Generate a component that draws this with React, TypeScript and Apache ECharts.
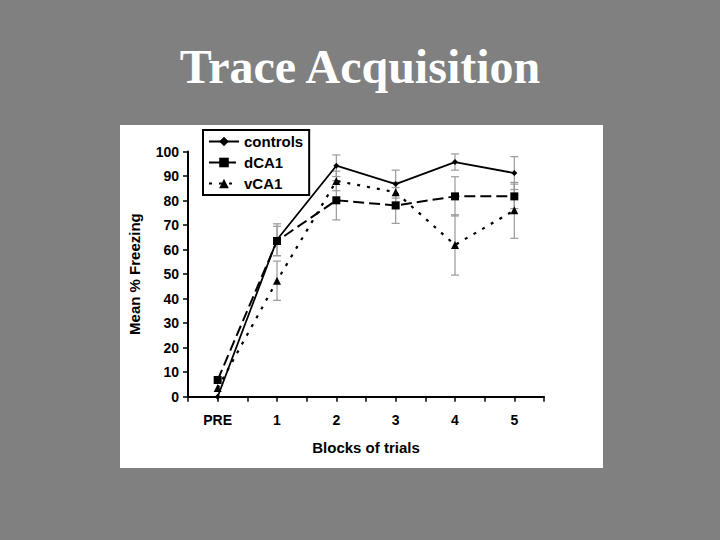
import React, { useEffect, useRef } from "react";
import * as echarts from "echarts";

const categories = ["PRE", "1", "2", "3", "4", "5"];
const controls = [0, 64, 94.2, 86.7, 95.7, 91.2];
const controlsErr = [0, 6.5, 4.4, 5.7, 3.3, 6.7];
const dCA1 = [6.8, 63.5, 80.1, 78.0, 81.7, 81.7];
const dCA1Err = [0, 6, 8, 7.3, 8, 5];
const vCA1 = [3.5, 47.3, 88, 83.4, 61.9, 76];
const vCA1Err = [0, 8, 4, 4, 12.3, 11.4];
const yTicks = [0, 10, 20, 30, 40, 50, 60, 70, 80, 90, 100];

const F = "'Liberation Sans', Arial, sans-serif";

export default function App() {
  const ref = useRef<HTMLDivElement>(null);
  useEffect(() => {
    if (!ref.current) return;
    const chart = echarts.init(ref.current, null, { renderer: "svg" });
    const pts = (vals: number[]) => vals.map((v, i) => [i + 0.5, v]);
    const errs: any[] = [];
    [
      [controls, controlsErr],
      [dCA1, dCA1Err],
      [vCA1, vCA1Err],
    ].forEach(([vals, e]) => {
      vals.forEach((v, i) => {
        if (e[i] > 0) errs.push([i + 0.5, v - e[i], v + e[i]]);
      });
    });
    chart.setOption({
      animation: false,
      backgroundColor: "#808080",
      graphic: [
        {
          type: "rect",
          shape: { x: 120, y: 125, width: 483, height: 343 },
          style: { fill: "#ffffff" },
          z: -10,
        },
        {
          type: "text",
          x: 360,
          y: 66,
          style: {
            text: "Trace Acquisition",
            fill: "#ffffff",
            font: "bold 48px 'Liberation Serif', 'Times New Roman', serif",
            textAlign: "center",
            textVerticalAlign: "middle",
          },
        },
      ],
      legend: {
        data: ["controls", "dCA1", "vCA1"],
        orient: "vertical",
        left: 203,
        top: 130,
        borderColor: "#000",
        borderWidth: 2,
        padding: [4, 6, 4, 5],
        itemGap: 6,
        itemWidth: 30,
        itemHeight: 12,
        backgroundColor: "#fff",
        textStyle: { fontFamily: F, fontWeight: "bold", fontSize: 15, color: "#000" },
        z: 10,
      },
      grid: { left: 188, right: 176, top: 151.5, bottom: 143.3 },
      xAxis: {
        type: "value",
        min: 0,
        max: 6,
        interval: 0.5,
        name: "Blocks of trials",
        nameLocation: "middle",
        nameGap: 43,
        nameTextStyle: { fontFamily: F, fontWeight: "bold", fontSize: 15, color: "#000" },
        axisLine: { show: true, lineStyle: { color: "#000", width: 2 } },
        axisTick: { show: true, length: 5, lineStyle: { color: "#000", width: 1.5 } },
        splitLine: { show: false },
        axisLabel: {
          margin: 16,
          fontFamily: F,
          fontWeight: "bold",
          fontSize: 14,
          color: "#000",
          formatter: (v: number) => {
            const i = Math.floor(v);
            return Math.abs(v - i - 0.5) < 1e-6 ? categories[i] ?? "" : "";
          },
        },
      },
      yAxis: {
        type: "value",
        min: yTicks[0],
        max: yTicks[yTicks.length - 1],
        interval: 10,
        name: "Mean % Freezing",
        nameLocation: "middle",
        nameGap: 46,
        nameTextStyle: { fontFamily: F, fontWeight: "bold", fontSize: 15, color: "#000" },
        axisLine: { show: true, lineStyle: { color: "#000", width: 2 } },
        axisTick: { show: true, length: 5, lineStyle: { color: "#000", width: 1.5 } },
        splitLine: { show: false },
        axisLabel: { margin: 9, fontFamily: F, fontWeight: "bold", fontSize: 14, color: "#000" },
      },
      series: [
        {
          type: "custom",
          name: "err",
          data: errs,
          encode: { x: 0, y: [1, 2] },
          z: 1,
          silent: true,
          renderItem: (params: any, api: any) => {
            const x = api.value(0);
            const lo = api.coord([x, api.value(1)]);
            const hi = api.coord([x, api.value(2)]);
            const w = 4;
            const st = { stroke: "#999", lineWidth: 1.2 };
            return {
              type: "group",
              children: [
                { type: "line", shape: { x1: lo[0], y1: lo[1], x2: hi[0], y2: hi[1] }, style: st },
                { type: "line", shape: { x1: lo[0] - w, y1: lo[1], x2: lo[0] + w, y2: lo[1] }, style: st },
                { type: "line", shape: { x1: hi[0] - w, y1: hi[1], x2: hi[0] + w, y2: hi[1] }, style: st },
              ],
            };
          },
        },
        {
          type: "line",
          name: "controls",
          data: pts(controls),
          symbol: "diamond",
          symbolSize: 6,
          lineStyle: { color: "#000", width: 1.8, type: "solid" },
          itemStyle: { color: "#000" },
          z: 3,
        },
        {
          type: "line",
          name: "dCA1",
          data: pts(dCA1),
          symbol: "rect",
          symbolSize: 8,
          lineStyle: { color: "#000", width: 2, type: [11, 5] },
          itemStyle: { color: "#000" },
          z: 3,
        },
        {
          type: "line",
          name: "vCA1",
          data: pts(vCA1),
          symbol: "triangle",
          symbolSize: 8,
          lineStyle: { color: "#000", width: 2.2, type: [3, 7] },
          itemStyle: { color: "#000" },
          z: 3,
        },
      ],
    });
    return () => chart.dispose();
  }, []);
  return (
    <div
      ref={ref}
      style={{ position: "absolute", left: 0, top: 0, width: 720, height: 540 }}
    />
  );
}
